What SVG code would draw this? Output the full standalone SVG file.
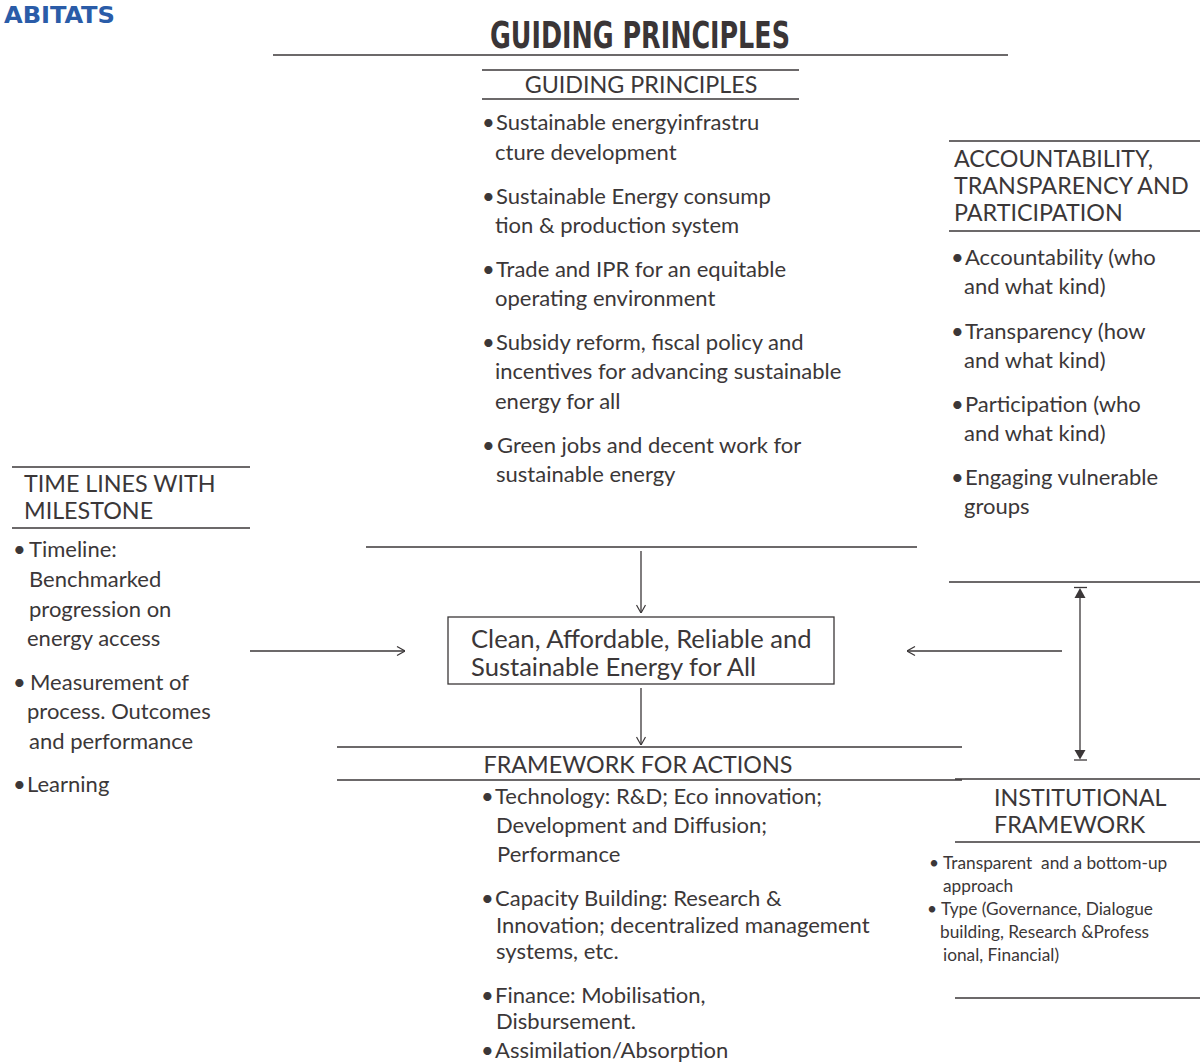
<svg xmlns="http://www.w3.org/2000/svg" width="1200" height="1062" viewBox="0 0 1200 1062">
<defs>
<style>
.t{font-family:Lato,"Open Sans","Liberation Sans",sans-serif;fill:#3b3738;font-size:22px}
.h{font-size:23.3px}
.s{font-size:17.3px}
.box{font-size:25.6px}
.ln{stroke:#3b3738;stroke-width:1.3;fill:none}
.ttl{font-family:"DejaVu Sans Condensed","Liberation Sans Narrow","DejaVu Sans",sans-serif;font-weight:bold;fill:#3a3536}
</style>
<marker id="open" viewBox="0 0 10 10" refX="10" refY="5" markerWidth="10" markerHeight="10" markerUnits="userSpaceOnUse" orient="auto">
<path d="M2,0.5 L10,5 L2,9.5" fill="none" stroke="#3b3738" stroke-width="1.2"/>
</marker>
</defs>
<rect width="1200" height="1062" fill="#ffffff"/>

<g id="header">
<text class="ttl" x="4" y="23" font-size="23" style="fill:#2a5ca8" textLength="111" lengthAdjust="spacingAndGlyphs">ABITATS</text>
<text class="ttl" x="490" y="48" font-size="38" textLength="300" lengthAdjust="spacingAndGlyphs">GUIDING PRINCIPLES</text>
<line class="ln" x1="273" y1="55" x2="1008" y2="55"/>
</g>

<g id="guiding-principles">
<line class="ln" x1="482" y1="70" x2="799" y2="70"/>
<line class="ln" x1="482" y1="99" x2="799" y2="99"/>
<text class="t h" x="641" y="93" text-anchor="middle">GUIDING PRINCIPLES</text>
<text class="t"><tspan x="482" y="130">•</tspan><tspan x="496" y="130">Sustainable energyinfrastru</tspan><tspan x="495" y="160">cture development</tspan></text>
<text class="t"><tspan x="482" y="204">•</tspan><tspan x="496" y="204">Sustainable Energy consump</tspan><tspan x="495" y="233">tion &amp; production system</tspan></text>
<text class="t"><tspan x="482" y="277">•</tspan><tspan x="496" y="277">Trade and IPR for an equitable</tspan><tspan x="495" y="306">operating environment</tspan></text>
<text class="t"><tspan x="482" y="350">•</tspan><tspan x="496" y="350">Subsidy reform, fiscal policy and</tspan><tspan x="495" y="379">incentives for advancing sustainable</tspan><tspan x="495" y="409">energy for all</tspan></text>
<text class="t"><tspan x="482" y="453">•</tspan><tspan x="497" y="453">Green jobs and decent work for</tspan><tspan x="496" y="482">sustainable energy</tspan></text>
<line class="ln" x1="366" y1="547" x2="917" y2="547"/>
</g>

<g id="accountability">
<line class="ln" x1="949" y1="141" x2="1200" y2="141"/>
<line class="ln" x1="949" y1="231" x2="1200" y2="231"/>
<text class="t h"><tspan x="954" y="167">ACCOUNTABILITY,</tspan><tspan x="954" y="194">TRANSPARENCY AND</tspan><tspan x="954" y="221">PARTICIPATION</tspan></text>
<text class="t"><tspan x="951" y="265">•</tspan><tspan x="965" y="265">Accountability (who</tspan><tspan x="964" y="294">and what kind)</tspan></text>
<text class="t"><tspan x="951" y="339">•</tspan><tspan x="965" y="339">Transparency (how</tspan><tspan x="964" y="368">and what kind)</tspan></text>
<text class="t"><tspan x="951" y="412">•</tspan><tspan x="965" y="412">Participation (who</tspan><tspan x="964" y="441">and what kind)</tspan></text>
<text class="t"><tspan x="951" y="485">•</tspan><tspan x="965" y="485">Engaging vulnerable</tspan><tspan x="964" y="514">groups</tspan></text>
<line class="ln" x1="949" y1="582" x2="1200" y2="582"/>
</g>

<g id="timelines">
<line class="ln" x1="12" y1="467" x2="250" y2="467"/>
<line class="ln" x1="12" y1="528" x2="250" y2="528"/>
<text class="t h"><tspan x="24" y="492">TIME LINES WITH</tspan><tspan x="24" y="519">MILESTONE</tspan></text>
<text class="t"><tspan x="13" y="557">•</tspan><tspan x="29" y="557">Timeline:</tspan><tspan x="29" y="587">Benchmarked</tspan><tspan x="29" y="617">progression on</tspan><tspan x="27" y="646">energy access</tspan></text>
<text class="t"><tspan x="13" y="690">•</tspan><tspan x="30" y="690">Measurement of</tspan><tspan x="27" y="719">process. Outcomes</tspan><tspan x="29" y="749">and performance</tspan></text>
<text class="t"><tspan x="13" y="792">•</tspan><tspan x="27" y="792">Learning</tspan></text>
</g>

<g id="center">
<rect x="448" y="617" width="386" height="67" fill="none" stroke="#3b3738" stroke-width="1.3"/>
<text class="t box"><tspan x="471" y="648">Clean, Affordable, Reliable and</tspan><tspan x="471" y="676">Sustainable Energy for All</tspan></text>
</g>

<g id="framework-actions">
<line class="ln" x1="337" y1="747" x2="962" y2="747"/>
<line class="ln" x1="337" y1="780" x2="962" y2="780"/>
<text class="t h" x="638" y="773" text-anchor="middle">FRAMEWORK FOR ACTIONS</text>
<text class="t"><tspan x="481" y="804">•</tspan><tspan x="495" y="804">Technology: R&amp;D; Eco innovation;</tspan><tspan x="496" y="833">Development and Diffusion;</tspan><tspan x="497" y="862">Performance</tspan></text>
<text class="t"><tspan x="481" y="906">•</tspan><tspan x="495" y="906">Capacity Building: Research &amp;</tspan><tspan x="496" y="933">Innovation; decentralized management</tspan><tspan x="496" y="959">systems, etc.</tspan></text>
<text class="t"><tspan x="481" y="1003">•</tspan><tspan x="495" y="1003">Finance: Mobilisation,</tspan><tspan x="496" y="1029">Disbursement.</tspan></text>
<text class="t"><tspan x="481" y="1058">•</tspan><tspan x="495" y="1058">Assimilation/Absorption</tspan></text>
</g>

<g id="institutional">
<line class="ln" x1="955" y1="779" x2="1200" y2="779"/>
<line class="ln" x1="955" y1="842" x2="1200" y2="842"/>
<text class="t h"><tspan x="994" y="806">INSTITUTIONAL</tspan><tspan x="994" y="833">FRAMEWORK</tspan></text>
<text class="t s"><tspan x="929" y="869">•</tspan><tspan x="943" y="869">Transparent&#160; and a bottom-up</tspan><tspan x="943" y="892">approach</tspan></text>
<text class="t s"><tspan x="927" y="915">•</tspan><tspan x="941" y="915">Type (Governance, Dialogue</tspan><tspan x="940" y="938">building, Research &amp;Profess</tspan><tspan x="943" y="961">ional, Financial)</tspan></text>
<line class="ln" x1="955" y1="998" x2="1200" y2="998"/>
</g>

<g id="connectors">
<line class="ln" x1="641" y1="551" x2="641" y2="613" marker-end="url(#open)"/>
<line class="ln" x1="641" y1="688" x2="641" y2="745" marker-end="url(#open)"/>
<line class="ln" x1="250" y1="651" x2="405" y2="651" marker-end="url(#open)"/>
<line class="ln" x1="1062" y1="651" x2="907" y2="651" marker-end="url(#open)"/>
<g id="double-arrow">
<line class="ln" x1="1080" y1="596" x2="1080" y2="751"/>
<line class="ln" x1="1074" y1="587.5" x2="1087" y2="587.5" stroke-width="1.6"/>
<polygon points="1080,588 1074.5,598 1085.5,598" fill="#3b3738"/>
<line class="ln" x1="1074" y1="760" x2="1087" y2="760" stroke-width="1.6"/>
<polygon points="1080,759.5 1074.5,750 1085.5,750" fill="#3b3738"/>
</g>
</g>
</svg>
